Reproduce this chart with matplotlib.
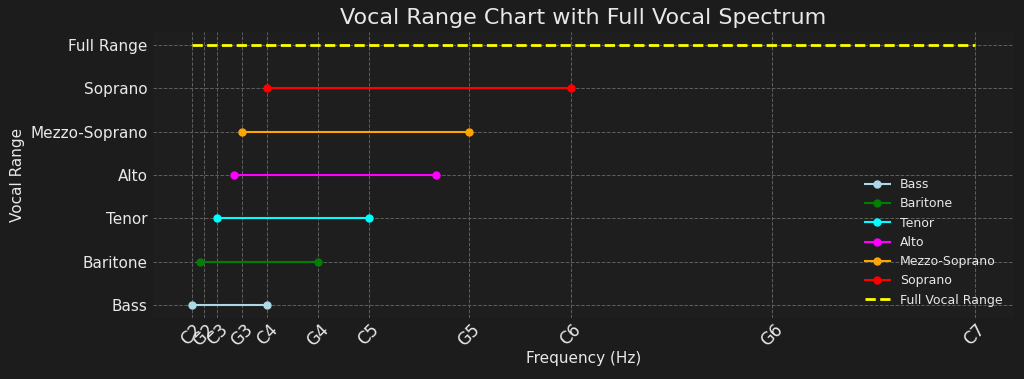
import matplotlib.pyplot as plt

# voice ranges (Hz), low and high note
voices = ['Bass', 'Baritone', 'Tenor', 'Alto', 'Mezzo-Soprano', 'Soprano']
low_hz = [65.41, 87.31, 130.81, 174.61, 196.00, 261.63]
high_hz = [261.63, 392.00, 523.25, 698.46, 783.99, 1046.50]
colors = ['lightblue', 'green', 'cyan', 'magenta', 'orange', 'red']

full_range = [65.41, 2093.00]

note_names = ['C2', 'G2', 'C3', 'G3', 'C4', 'G4', 'C5', 'G5', 'C6', 'G6', 'C7']
note_hz = [65.41, 98.00, 130.81, 196.00, 261.63, 392.00, 523.25, 783.99,
           1046.50, 1567.98, 2093.00]

bg = '#1c1c1c'
fg = '#e8e8e8'

fig, ax = plt.subplots(figsize=(10.24, 3.79), dpi=100)
fig.patch.set_facecolor(bg)
ax.set_facecolor('#1e1e1e')

for name, lo, hi, c in zip(voices, low_hz, high_hz, colors):
    ax.plot([lo, hi], [name, name], color=c, marker='o', markersize=5,
            linewidth=1.5, label=name)

ax.plot(full_range, ['Full Range', 'Full Range'], color='yellow',
        linestyle='--', linewidth=2, label='Full Vocal Range')

ax.set_xticks(note_hz)
ax.set_xticklabels(note_names, rotation=45)
ax.tick_params(colors=fg, labelsize=11, length=0)
ax.tick_params(axis='x', labelsize=12, pad=2)

ax.set_title('Vocal Range Chart with Full Vocal Spectrum', color=fg, fontsize=16)
ax.set_xlabel('Frequency (Hz)', color=fg, fontsize=11, labelpad=1)
ax.set_ylabel('Vocal Range', color=fg, fontsize=11)

ax.grid(True, color='#5e5e5e', linestyle='--', linewidth=0.7)
for s in ax.spines.values():
    s.set_visible(False)

leg = ax.legend(loc='lower right', frameon=False, fontsize=9)
for t in leg.get_texts():
    t.set_color(fg)

fig.subplots_adjust(left=0.149, right=0.990, top=0.916, bottom=0.161)
plt.savefig('out.png', facecolor=bg)
